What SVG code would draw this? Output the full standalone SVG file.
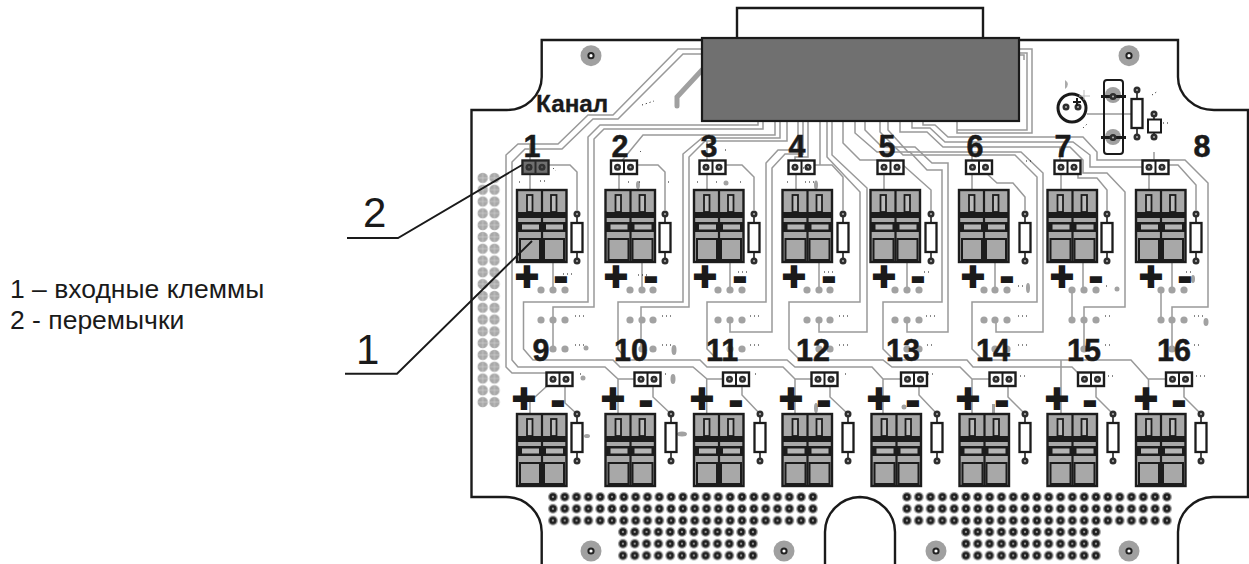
<svg xmlns="http://www.w3.org/2000/svg" xmlns:xlink="http://www.w3.org/1999/xlink" width="1249" height="564" viewBox="0 0 1249 564">
<style>
text{font-family:"Liberation Sans",Arial,sans-serif;fill:#1a1a1a}
.n{font-size:30.500px;font-weight:700;text-anchor:middle;stroke:#1a1a1a;stroke-width:.5}
.s{font-size:40px;font-weight:700;text-anchor:middle;stroke:#1a1a1a;stroke-width:2}
.l{font-size:26.500px}
.b{font-size:42px}
.t{fill:none;stroke:#999;stroke-width:1.5}
.o{fill:none;stroke:#1a1a1a;stroke-width:2.4}
.k{fill:none;stroke:#1a1a1a;stroke-width:1.6}
.g{fill:#a2a2a2}
.d{fill:none;stroke:#111;stroke-width:1;stroke-dasharray:1 3}
</style>
<defs>
<g id="via"><circle r="5" fill="#a0a0a0"/><circle r="2.4" fill="#999" stroke="#1e1e1e" stroke-width="2.500"/></g>
<g id="pad"><circle r="3.5" fill="#2e2e2e"/><circle r="1.1" fill="#aaa"/></g>
<circle id="gv" r="3.6" fill="#a2a2a2"/>
<g id="hole"><circle r="10.5" fill="#a0a0a0"/><circle r="2.6" fill="#fff" stroke="#222" stroke-width="2"/></g>
<g id="block">
<rect x="0" y="0" width="49.500" height="72" fill="#a8a8a8" stroke="#1c1c1c" stroke-width="2.4"/>
<rect x="0" y="22" width="49.500" height="6" fill="#1c1c1c"/>
<rect x="0" y="32" width="49.500" height="10" fill="#1c1c1c"/>
<path d="M25 0V72" stroke="#1c1c1c" stroke-width="2.2"/>
<rect x="10" y="5" width="5.500" height="17" fill="#bbb" stroke="#1c1c1c" stroke-width="1.8"/>
<rect x="34" y="5" width="5.500" height="17" fill="#bbb" stroke="#1c1c1c" stroke-width="1.8"/>
<rect x="5" y="34.500" width="17" height="5" fill="#b4b4b4"/>
<rect x="29" y="34.500" width="17" height="5" fill="#b4b4b4"/>
<rect x="3" y="49" width="20" height="21" fill="#a8a8a8" stroke="#1c1c1c" stroke-width="2"/>
<rect x="27" y="49" width="20" height="21" fill="#a8a8a8" stroke="#1c1c1c" stroke-width="2"/>
</g>
<g id="jumper">
<rect x="0" y="0" width="26" height="13.500" fill="#fff" stroke="#1c1c1c" stroke-width="2.4"/>
<path d="M13 0V13.500" stroke="#1c1c1c" stroke-width="2"/>
<use xlink:href="#pad" href="#pad" x="6.500" y="6.700"/><use xlink:href="#pad" href="#pad" x="19.500" y="6.700"/>
</g>
<g id="res">
<path d="M0 0V47" stroke="#1c1c1c" stroke-width="1.6"/>
<rect x="-5.500" y="9" width="11" height="29" fill="#fff" stroke="#1c1c1c" stroke-width="2.300"/>
<use xlink:href="#pad" href="#pad"/><use xlink:href="#pad" href="#pad" y="47"/>
</g>
<pattern id="vp" width="11.82" height="11.82" patternUnits="userSpaceOnUse"><use xlink:href="#via" href="#via" x="5.91" y="5.91"/></pattern>
<pattern id="vq" width="11.8" height="11.8" patternUnits="userSpaceOnUse" x="476.8" y="172"><circle cx="5.9" cy="5.9" r="5.2" fill="#a8a8a8"/><path d="M5.9 1V11M1 5.9H11" stroke="#ddd" stroke-width=".5"/></pattern>
</defs>

<g id="board">
<path class="o" d="M702 40H541.700V77A35 33 0 0 1 506 110H471.500V497H506A36 35 0 0 1 541.700 532V564"/>
<path class="o" d="M825 564V532A36 35 0 0 1 860 497A36 35 0 0 1 895 532V564"/>
<path class="o" d="M1178 564V532A36 35 0 0 1 1213 497H1248V110H1214A36 33 0 0 1 1178 77V40H1019"/>
<path class="o" d="M737 38V8H983V38"/>
<use xlink:href="#hole" href="#hole" x="591" y="55.700"/><use xlink:href="#hole" href="#hole" x="1129" y="55.700"/>
<use xlink:href="#hole" href="#hole" x="591" y="551"/><use xlink:href="#hole" href="#hole" x="784" y="551"/>
<use xlink:href="#hole" href="#hole" x="936" y="551"/><use xlink:href="#hole" href="#hole" x="1129" y="551"/>
<rect x="476.800" y="172" width="23.600" height="236" fill="url(#vq)"/>
<g transform="translate(547,491)"><rect width="271" height="35.500" fill="url(#vp)"/></g>
<g transform="translate(617,526)"><rect width="142" height="35.500" fill="url(#vp)"/></g>
<g transform="translate(901,491)"><rect width="271" height="35.500" fill="url(#vp)"/></g>
<g transform="translate(960,526)"><rect width="142" height="35.500" fill="url(#vp)"/></g>
</g>

<g id="connectors">
<path d="M677 106V97L702 70" fill="none" stroke="#a0a0a0" stroke-width="5" stroke-linecap="round"/>
<path class="t" d="M702 49H678L613 115H588L558 144H518L506 155V367L512 373H546"/>
<path class="t" d="M702 54H683L618 119H593L562 149H525L512 162V360L518 367H605L618 379H634M618 379V413"/>
<path class="t" d="M758 121V125H600L588 137V302H523.500V349L533 360H613L620 367H693L707 379H723M706.700 379V413"/>
<path class="t" d="M763 121V129H604L594 139V307H553V349"/>
<path class="t" d="M780 121V138H702L683 154V302H618V349L627 360H700L707 367H783L795 379H811M795 379V413"/>
<path class="t" d="M787 121V141H705L689 157V307H641V349"/>
<path class="t" d="M620 163L643 135H775V121"/>
<path class="t" d="M798 121V150H778L766 163V302H707V349L718 360H787L795 367H872L883 379H901M883 379V413"/>
<path class="t" d="M803 121V154H785L772 168V332H730V320"/>
<path class="t" d="M808 121V157H795V163M820 121V165"/>
<path class="t" d="M827 121V157L860 192V302H789V349L800 360H883L892 367H960L972 379H989M972 379V413"/>
<path class="t" d="M832 121V155L867 188V332H819V320"/>
<path class="t" d="M855 121V133L877 152H910L927 170H942V302H883V349L894 360H967L973 367H1072L1080 375M1061 360V413"/>
<path class="t" d="M865 121V130L882 147H915L932 163H948V332H907V320"/>
<path class="t" d="M880 121V132L903 155H1015L1037 177V302H972V349L983 360H1131L1148 379H1166M1148.500 379V413"/>
<path class="t" d="M888 121V130L908 152H1021L1043 173V332H996V320"/>
<path class="t" d="M900 121V132H927L943 147H1070L1083 160V173H1107L1125 192V307H1084V349"/>
<path class="t" d="M923 121V125H935L948 137H1083L1097 152V160H1185L1208 183V307H1172V349"/>
<path class="t" d="M912 121V128H930L945 142H1073L1090 155V167H1142"/>
<path class="t" d="M843 121V143L860 160H882"/>
<path class="t" d="M1019 49H1032V133H957V121M1019 53H1027V130H957M1019 55H1024V60"/>
<path class="t" d="M530 160V144M707 163V141M972 163V155M1060 163V147"/>
<path class="t" d="M548 165H570L577 172V210M637 165H658L665 172V210M725 165H742L754 177V210M813 165H832L843 177V210M903 165L931 190V210M985 172L997 183H1013L1025 197V210M1078 163V178H1097L1107 190V210M1168 165H1178L1196 185V210"/>
<path class="t" d="M530 174V190M619 174V190M707 174V190M796 174V190M884 174V190M972 174V190M1061 174V190M1149 174V190"/>
<path class="t" d="M553 262V290M642 262V290M730 262V290M819 262V290M907 262V290M995 262V290M1083 262V290M1172 262V290M1072 290V320M1161 290V320"/>
<path class="t" d="M547 386L535 397L530 400V413M565 386V403L577 414M653 386V397L671 414M742 386V395L760 414M830 386V397L848 414M919 386V395L937 414M1008 386V397L1025 414M1096 386V397L1113 414M1184 386V397L1201 414"/>
<path class="t" d="M1087 114H1132M1154 152V160" />
</g>

<g id="chip"><rect x="702" y="38" width="317" height="83" fill="#707070" stroke="#1a1a1a" stroke-width="2.200"/></g>

<g id="vias" class="g">
<use xlink:href="#gv" href="#gv" x="541" y="290"/><use xlink:href="#gv" href="#gv" x="553" y="290"/><use xlink:href="#gv" href="#gv" x="565" y="290"/>
<use xlink:href="#gv" href="#gv" x="630" y="290"/><use xlink:href="#gv" href="#gv" x="642" y="290"/><use xlink:href="#gv" href="#gv" x="653" y="290"/>
<use xlink:href="#gv" href="#gv" x="718" y="290"/><use xlink:href="#gv" href="#gv" x="730" y="290"/><use xlink:href="#gv" href="#gv" x="742" y="290"/>
<use xlink:href="#gv" href="#gv" x="807" y="290"/><use xlink:href="#gv" href="#gv" x="819" y="290"/><use xlink:href="#gv" href="#gv" x="830" y="290"/>
<use xlink:href="#gv" href="#gv" x="895" y="290"/><use xlink:href="#gv" href="#gv" x="907" y="290"/><use xlink:href="#gv" href="#gv" x="919" y="290"/>
<use xlink:href="#gv" href="#gv" x="984" y="290"/><use xlink:href="#gv" href="#gv" x="995" y="290"/><use xlink:href="#gv" href="#gv" x="1007" y="290"/>
<use xlink:href="#gv" href="#gv" x="1072" y="290"/><use xlink:href="#gv" href="#gv" x="1084" y="290"/><use xlink:href="#gv" href="#gv" x="1096" y="290"/>
<use xlink:href="#gv" href="#gv" x="1161" y="290"/><use xlink:href="#gv" href="#gv" x="1172" y="290"/><use xlink:href="#gv" href="#gv" x="1184" y="290"/>
<use xlink:href="#gv" href="#gv" x="541" y="320"/><use xlink:href="#gv" href="#gv" x="553" y="320"/><use xlink:href="#gv" href="#gv" x="565" y="320"/>
<use xlink:href="#gv" href="#gv" x="630" y="320"/><use xlink:href="#gv" href="#gv" x="642" y="320"/><use xlink:href="#gv" href="#gv" x="653" y="320"/>
<use xlink:href="#gv" href="#gv" x="718" y="320"/><use xlink:href="#gv" href="#gv" x="730" y="320"/><use xlink:href="#gv" href="#gv" x="742" y="320"/>
<use xlink:href="#gv" href="#gv" x="807" y="320"/><use xlink:href="#gv" href="#gv" x="819" y="320"/><use xlink:href="#gv" href="#gv" x="830" y="320"/>
<use xlink:href="#gv" href="#gv" x="895" y="320"/><use xlink:href="#gv" href="#gv" x="907" y="320"/><use xlink:href="#gv" href="#gv" x="919" y="320"/>
<use xlink:href="#gv" href="#gv" x="984" y="320"/><use xlink:href="#gv" href="#gv" x="995" y="320"/><use xlink:href="#gv" href="#gv" x="1007" y="320"/>
<use xlink:href="#gv" href="#gv" x="1072" y="320"/><use xlink:href="#gv" href="#gv" x="1084" y="320"/><use xlink:href="#gv" href="#gv" x="1096" y="320"/>
<use xlink:href="#gv" href="#gv" x="1161" y="320"/><use xlink:href="#gv" href="#gv" x="1172" y="320"/><use xlink:href="#gv" href="#gv" x="1184" y="320"/>
<use xlink:href="#gv" href="#gv" x="553" y="349"/><use xlink:href="#gv" href="#gv" x="565" y="349"/>
<use xlink:href="#gv" href="#gv" x="642" y="349"/><use xlink:href="#gv" href="#gv" x="653" y="349"/>
<use xlink:href="#gv" href="#gv" x="730" y="349"/><use xlink:href="#gv" href="#gv" x="742" y="349"/>
<use xlink:href="#gv" href="#gv" x="819" y="349"/><use xlink:href="#gv" href="#gv" x="830" y="349"/>
<use xlink:href="#gv" href="#gv" x="907" y="349"/><use xlink:href="#gv" href="#gv" x="919" y="349"/>
<use xlink:href="#gv" href="#gv" x="995" y="349"/><use xlink:href="#gv" href="#gv" x="1007" y="349"/>
<use xlink:href="#gv" href="#gv" x="1084" y="349"/><use xlink:href="#gv" href="#gv" x="1172" y="349"/>
<ellipse cx="638" cy="185" rx="2" ry="4"/><ellipse cx="726" cy="183" rx="2.500" ry="2.500"/><ellipse cx="816" cy="185" rx="2" ry="4.500"/>
<ellipse cx="586" cy="348" rx="2.500" ry="2.500"/><ellipse cx="674" cy="350" rx="2.500" ry="5"/><ellipse cx="583" cy="378" rx="2.500" ry="2.500"/><ellipse cx="673" cy="379" rx="2.500" ry="5"/>
<ellipse cx="682" cy="434" rx="5" ry="2.500"/><ellipse cx="587" cy="436" rx="3" ry="2"/><ellipse cx="816" cy="408" rx="2" ry="5"/><ellipse cx="904" cy="407" rx="2.500" ry="2.500"/>
<rect x="992" y="404" width="3" height="9"/><ellipse cx="1028" cy="288" rx="2" ry="5"/><ellipse cx="1117" cy="289" rx="2.500" ry="2.500"/><ellipse cx="1193" cy="279" rx="2" ry="4"/><ellipse cx="1206" cy="322" rx="2.500" ry="4"/>
</g>

<g id="ch1"><use xlink:href="#block" href="#block" x="517" y="190"/><use xlink:href="#jumper" href="#jumper" x="522.500" y="160.500"/><rect x="522.500" y="160.500" width="26" height="13.500" fill="#333" opacity=".7"/><use xlink:href="#res" href="#res" x="577" y="214"/><text class="n" x="532" y="157">1</text><text class="s" x="527" y="290.400">+</text><text class="s" x="561" y="290.400">-</text></g>
<g id="ch2"><use xlink:href="#block" href="#block" x="605.500" y="190"/><use xlink:href="#jumper" href="#jumper" x="611" y="160.500"/><use xlink:href="#res" href="#res" x="665" y="214"/><text class="n" x="620" y="157">2</text><text class="s" x="616" y="290.400">+</text><text class="s" x="651" y="290.400">-</text></g>
<g id="ch3"><use xlink:href="#block" href="#block" x="694" y="190"/><use xlink:href="#jumper" href="#jumper" x="699.500" y="160.500"/><use xlink:href="#res" href="#res" x="754" y="214"/><text class="n" x="709" y="157">3</text><text class="s" x="705" y="290.400">+</text><text class="s" x="740" y="290.400">-</text></g>
<g id="ch4"><use xlink:href="#block" href="#block" x="782.500" y="190"/><use xlink:href="#jumper" href="#jumper" x="788.500" y="160.500"/><use xlink:href="#res" href="#res" x="843" y="214"/><text class="n" x="797" y="157">4</text><text class="s" x="794" y="290.400">+</text><text class="s" x="829" y="290.400">-</text></g>
<g id="ch5"><use xlink:href="#block" href="#block" x="870.500" y="190"/><use xlink:href="#jumper" href="#jumper" x="877.500" y="160.500"/><use xlink:href="#res" href="#res" x="931" y="214"/><text class="n" x="887" y="157">5</text><text class="s" x="884" y="290.400">+</text><text class="s" x="918" y="290.400">-</text></g>
<g id="ch6"><use xlink:href="#block" href="#block" x="959" y="190"/><use xlink:href="#jumper" href="#jumper" x="966" y="160.500"/><use xlink:href="#res" href="#res" x="1025" y="214"/><text class="n" x="975" y="157">6</text><text class="s" x="973" y="290.400">+</text><text class="s" x="1007" y="290.400">-</text></g>
<g id="ch7"><use xlink:href="#block" href="#block" x="1047.500" y="190"/><use xlink:href="#jumper" href="#jumper" x="1054.500" y="160.500"/><use xlink:href="#res" href="#res" x="1107" y="214"/><text class="n" x="1063" y="157">7</text><text class="s" x="1062" y="290.400">+</text><text class="s" x="1096" y="290.400">-</text></g>
<g id="ch8"><use xlink:href="#block" href="#block" x="1136" y="190"/><use xlink:href="#jumper" href="#jumper" x="1142.500" y="160.500"/><use xlink:href="#res" href="#res" x="1196" y="214"/><text class="n" x="1202" y="157">8</text><text class="s" x="1151" y="290.400">+</text><text class="s" x="1185" y="290.400">-</text></g>

<g id="ch9"><use xlink:href="#block" href="#block" x="517" y="414"/><use xlink:href="#jumper" href="#jumper" x="546.500" y="372.500"/><use xlink:href="#res" href="#res" x="577" y="414"/><text class="n" x="541" y="361">9</text><text class="s" x="524" y="412.400">+</text><text class="s" x="558" y="414.400">-</text></g>
<g id="ch10"><use xlink:href="#block" href="#block" x="605.500" y="414"/><use xlink:href="#jumper" href="#jumper" x="634.500" y="372.500"/><use xlink:href="#res" href="#res" x="671" y="414"/><text class="n" x="631" y="361">10</text><text class="s" x="613" y="412.400">+</text><text class="s" x="646" y="414.400">-</text></g>
<g id="ch11"><use xlink:href="#block" href="#block" x="694" y="414"/><use xlink:href="#jumper" href="#jumper" x="723" y="372.500"/><use xlink:href="#res" href="#res" x="760" y="414"/><text class="n" x="722" y="361">11</text><text class="s" x="702" y="412.400">+</text><text class="s" x="736" y="414.400">-</text></g>
<g id="ch12"><use xlink:href="#block" href="#block" x="782.500" y="414"/><use xlink:href="#jumper" href="#jumper" x="811.500" y="372.500"/><use xlink:href="#res" href="#res" x="848" y="414"/><text class="n" x="813" y="361">12</text><text class="s" x="791" y="412.400">+</text><text class="s" x="824" y="414.400">-</text></g>
<g id="ch13"><use xlink:href="#block" href="#block" x="871.500" y="414"/><use xlink:href="#jumper" href="#jumper" x="901" y="372.500"/><use xlink:href="#res" href="#res" x="937" y="414"/><text class="n" x="903" y="361">13</text><text class="s" x="879" y="412.400">+</text><text class="s" x="913" y="414.400">-</text></g>
<g id="ch14"><use xlink:href="#block" href="#block" x="959.500" y="414"/><use xlink:href="#jumper" href="#jumper" x="989.500" y="372.500"/><use xlink:href="#res" href="#res" x="1025" y="414"/><text class="n" x="993" y="361">14</text><text class="s" x="968" y="412.400">+</text><text class="s" x="1002" y="414.400">-</text></g>
<g id="ch15"><use xlink:href="#block" href="#block" x="1047.500" y="414"/><use xlink:href="#jumper" href="#jumper" x="1078" y="372.500"/><use xlink:href="#res" href="#res" x="1113" y="414"/><text class="n" x="1084" y="361">15</text><text class="s" x="1057" y="412.400">+</text><text class="s" x="1090" y="414.400">-</text></g>
<g id="ch16"><use xlink:href="#block" href="#block" x="1136" y="414"/><use xlink:href="#jumper" href="#jumper" x="1166" y="372.500"/><use xlink:href="#res" href="#res" x="1201" y="414"/><text class="n" x="1174" y="361">16</text><text class="s" x="1146" y="412.400">+</text><text class="s" x="1179" y="414.400">-</text></g>

<g id="power">
<circle cx="1113" cy="95" r="8" fill="#a0a0a0"/><circle cx="1113" cy="137" r="8" fill="#a0a0a0"/>
<rect x="1104" y="80" width="19" height="74" rx="3" class="k" style="stroke-width:2"/>
<path d="M1101 96.500H1126M1101 137.500H1126" stroke="#1a1a1a" stroke-width="3.200"/>
<use xlink:href="#pad" href="#pad" x="1113" y="96.500"/><use xlink:href="#pad" href="#pad" x="1113" y="137.500"/>
<circle cx="1072" cy="108" r="14" fill="#fff" stroke="#1a1a1a" stroke-width="3"/>
<use xlink:href="#pad" href="#pad" x="1066" y="107"/><use xlink:href="#pad" href="#pad" x="1078" y="107"/>
<path d="M1073 102H1081M1077 98V106" stroke="#1a1a1a" stroke-width="2"/>
<path d="M1079 96H1090M1084 90V100" stroke="#bbb" stroke-width="1"/>
<path d="M1065 80Q1071 84 1065 89Z" fill="#aaa"/>
<use xlink:href="#res" href="#res" x="1137" y="90"/>
<path d="M1154 114V137" stroke="#1a1a1a" stroke-width="1.600"/>
<rect x="1148" y="119.500" width="13" height="13" fill="#fff" stroke="#1a1a1a" stroke-width="2"/>
<use xlink:href="#pad" href="#pad" x="1154" y="114"/><use xlink:href="#pad" href="#pad" x="1154" y="137"/>
</g>

<g id="specks">
<path class="d" d="M553 168l3 3M519 182h1M540 181h8M563 274h12M640 151l2 2M639 182h1M628 182h1M668 182h1M725 150h3M697 182h1M716 182h3M740 182h1M803 168h8M787 182h1M805 182h10M575 316h10M662 316h11M750 316h11M839 316h11M926 316h10M1018 316h10M1105 316h8M1194 316h10M575 345h10M662 345h11M750 345h11M839 345h11M927 345h8M1018 345h10M1105 345h8M1194 345h8M638 275h12M738 272h10M824 272h10M924 272h8M1018 286h6M1106 286h3M1186 272h6M1026 161h8M580 374h3M665 374h3M755 374h3M845 374h3M928 374h8M1020 376h6M1108 376h6M1196 376h12M1152 95l6-4M1083 128l5-5M1163 123h6M642 105l12-4"/>
</g>

<g id="leader1"><path d="M345 373.700H397L532 241" fill="none" stroke="#1a1a1a" stroke-width="1.900"/><text class="b" x="356" y="364">1</text></g>
<g id="leader2"><path d="M347 238H398L522 165" fill="none" stroke="#1a1a1a" stroke-width="1.900"/><text class="b" x="363" y="227">2</text></g>

<text x="536" y="112" style="font-size:24.300px;font-weight:700;stroke:#1a1a1a;stroke-width:.3">Канал</text>
<g id="legend">
<text class="l" x="10" y="298" style="font-size:26.5px">1 – входные клеммы</text>
<text class="l" x="10" y="329" style="font-size:26.5px">2 - перемычки</text>
</g>
</svg>
